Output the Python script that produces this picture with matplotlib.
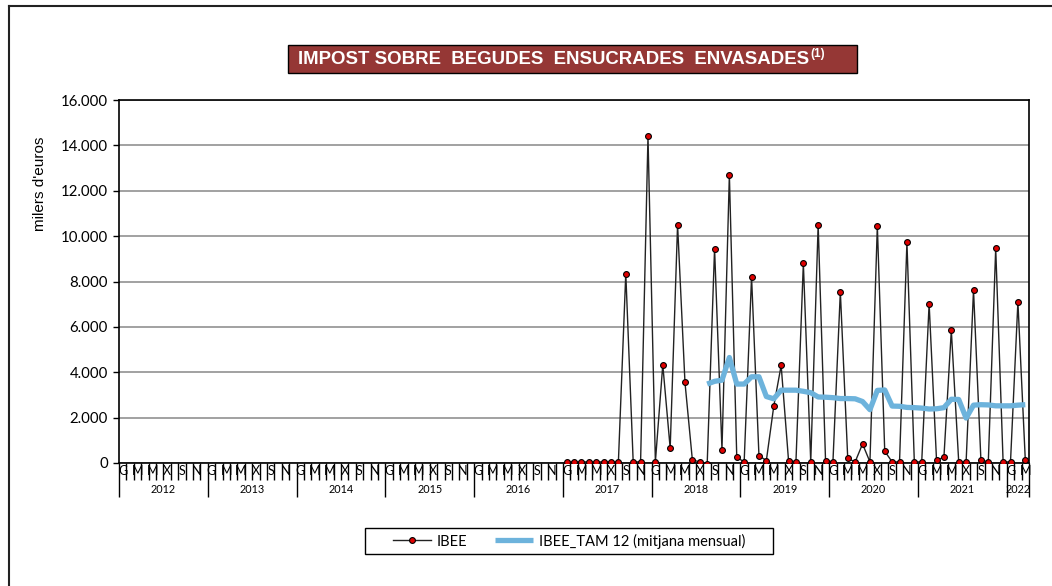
import numpy as np
import matplotlib.pyplot as plt
from matplotlib.patches import Rectangle
from matplotlib.lines import Line2D

# eix temporal: gener 2012 - març 2022
years = list(range(2012, 2023))
month_letters = ["G", "", "M", "", "M", "", "X", "", "S", "", "N", ""]
n_months = 123

# IBEE mensual (milers d'euros), a partir de gener 2017
ibee_2017 = [50, 50, 50, 50, 50, 50, 50, 50, 8350, 50, 50, 14400]
ibee_2018 = [50, 4330, 650, 10500, 3550, 130, 50, -60, 9450, 580, 12700, 250]
ibee_2019 = [50, 8200, 320, 110, 2500, 4300, 100, 60, 8800, 50, 10500, 100]
ibee_2020 = [60, 7550, 200, 50, 840, 50, 10450, 520, 50, 50, 9730, 50]
ibee_2021 = [50, 7020, 130, 250, 5850, 50, 50, 7620, 130, 50, 9460, 50]
ibee_2022 = [50, 7100, 130]
ibee = ibee_2017 + ibee_2018 + ibee_2019 + ibee_2020 + ibee_2021 + ibee_2022
ibee_start = 60  # gener 2017

# IBEE_TAM 12 (mitjana mensual), a partir d'agost 2018
tam = [3480, 3600, 3650, 4650, 3480,
       3480, 3800, 3800, 2930, 2830, 3210, 3210, 3210, 3160, 3100, 2910, 2900,
       2880, 2840, 2840, 2830, 2710, 2350, 3200, 3220, 2510, 2500, 2450, 2440,
       2420, 2380, 2390, 2440, 2810, 2800, 1980, 2550, 2570, 2560, 2520, 2520,
       2520, 2550, 2570]
tam_start = 79  # agost 2018

W, H = 1052, 586
fig = plt.figure(figsize=(W / 100, H / 100), dpi=100)
ax = fig.add_axes([119 / W, 1 - 463 / H, (1029 - 119) / W, (463 - 100) / H])

x_ibee = np.arange(ibee_start, ibee_start + len(ibee))
x_tam = np.arange(tam_start, tam_start + len(tam))

ax.plot(x_ibee, ibee, color="#222222", lw=1.0, marker="o", ms=4.2,
        mfc="#e00000", mec="black", mew=0.8, label="IBEE", zorder=3)
ax.plot(x_tam, tam, color="#6db3dc", lw=3.8, solid_capstyle="butt",
        label="IBEE_TAM 12 (mitjana mensual)", zorder=4)

ax.set_xlim(-0.5, n_months - 0.5)
ax.set_ylim(0, 16000)
yt = np.arange(0, 16001, 2000)
ax.set_yticks(yt)
ax.set_yticklabels([f"{v:,.0f}".replace(",", ".") for v in yt],
                   fontsize=10.8, family="Lato")
ax.tick_params(axis="y", direction="out", length=4, width=1, pad=4)
ax.yaxis.grid(True, color="#9a9a9a", lw=1.3)
ax.set_axisbelow(True)

# ticks de mesos i d'anys
ax.set_xticks([12 * k - 0.5 for k in range(len(years))] + [n_months - 0.5])
ax.set_xticks([i - 0.5 for i in range(n_months + 1)], minor=True)
ax.set_xticklabels([])
ax.tick_params(axis="x", which="major", direction="out", length=24.5, width=1)
ax.tick_params(axis="x", which="minor", direction="out", length=12, width=1)

trans = ax.get_xaxis_transform()
for i in range(n_months):
    lab = month_letters[i % 12]
    if lab:
        ax.text(i, -0.023, lab, transform=trans, ha="center", va="center",
                fontsize=9, family="Lato", clip_on=False)
for k, yr in enumerate(years):
    m0 = 12 * k
    m1 = min(12 * k + 11, n_months - 1)
    ax.text((m0 + m1) / 2, -0.073, str(yr), transform=trans, ha="center",
            va="center", fontsize=7.8, family="Lato", clip_on=False)

for s in ax.spines.values():
    s.set_color("black")
    s.set_linewidth(1.2)

fig.text(40 / W, 1 - 184 / H, "milers d'euros", rotation=90, ha="center",
         va="center", fontsize=11, family="Liberation Sans")

# títol
fig.patches.append(Rectangle((288 / W, 1 - 73 / H), 569 / W, 28 / H,
                             transform=fig.transFigure, facecolor="#953735",
                             edgecolor="black", lw=1.0))
t = fig.text(298 / W, 1 - 59.5 / H, "IMPOST SOBRE  BEGUDES  ENSUCRADES  ENVASADES",
             ha="left", va="center", fontsize=12, fontweight="bold",
             color="white", family="Liberation Sans")
fig.canvas.draw()
bb = t.get_window_extent()
t.set_fontsize(12 * 510 / bb.width)
fig.canvas.draw()
bb = t.get_window_extent()
fig.text(bb.x1 / W + 1 / W, 1 - 54 / H, "(1)", ha="left", va="center",
         fontsize=8.5, fontweight="bold", color="white", family="Liberation Sans")

# llegenda
fig.patches.append(Rectangle((365 / W, 1 - 554 / H), 408 / W, 26 / H,
                             transform=fig.transFigure, facecolor="white",
                             edgecolor="black", lw=1.0, zorder=0))
h, l = ax.get_legend_handles_labels()
fig.legend(h, l, loc="center", bbox_to_anchor=(569 / W, 1 - 541 / H), ncol=2,
           frameon=False, prop={"family": "Lato", "size": 10.5},
           handlelength=2.6, handletextpad=0.4, columnspacing=1.9)

# vora exterior
fig.lines.append(Line2D([9 / W, 9 / W], [0, 1 - 6 / H], transform=fig.transFigure,
                        color="#222222", lw=1.5))
fig.lines.append(Line2D([9 / W, 1], [1 - 6 / H, 1 - 6 / H], transform=fig.transFigure,
                        color="#222222", lw=1.5))

fig.savefig("out.png", dpi=100)
